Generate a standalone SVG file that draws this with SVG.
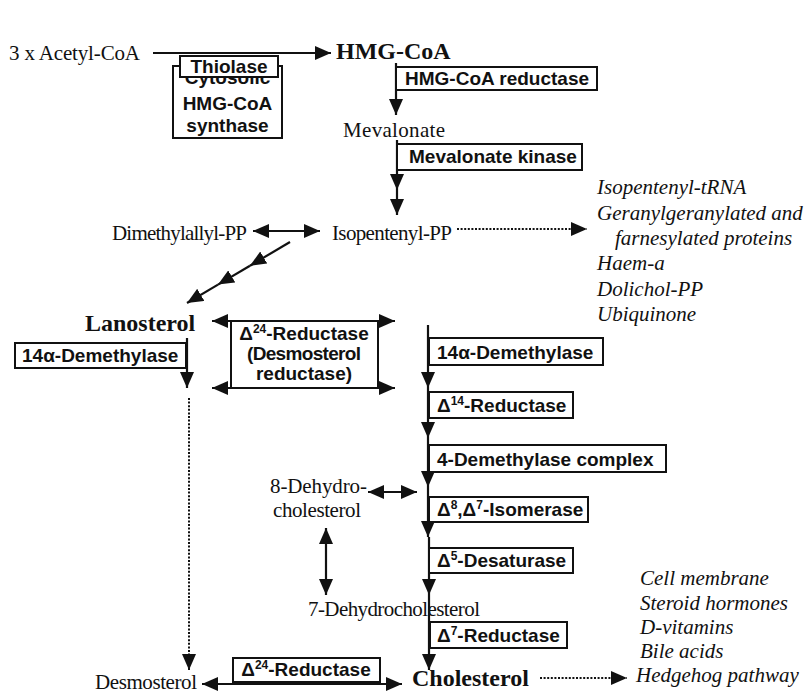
<svg xmlns="http://www.w3.org/2000/svg" width="808" height="695" viewBox="0 0 808 695">
  <defs>
    <marker id="ah" viewBox="0 0 16 14" refX="16" refY="7" markerWidth="16" markerHeight="14" orient="auto-start-reverse" markerUnits="userSpaceOnUse">
      <path d="M0,0 L16,7 L0,14 Z" fill="#111"/>
    </marker>
  </defs>
  <style>
    .sr { font-family: "Liberation Serif", "Times New Roman", serif; font-size: 21px; fill: #111; }
    .hd { font-family: "Liberation Serif", "Times New Roman", serif; font-size: 24px; font-weight: bold; fill: #111; }
    .it { font-family: "Liberation Serif", "Times New Roman", serif; font-size: 21px; font-style: italic; fill: #111; }
    .enz { font-family: "Liberation Sans", Arial, sans-serif; font-size: 19px; font-weight: bold; fill: #111; }
    .sup { font-size: 12px; }
    .box { fill: #fff; stroke: #111; stroke-width: 2; }
    .ln { stroke: #111; stroke-width: 2.2; fill: none; }
    .dot { stroke-dasharray: 2 1.6; stroke-width: 2; }
    .end { marker-end: url(#ah); }
    .both { marker-start: url(#ah); marker-end: url(#ah); }
  </style>
  <rect width="808" height="695" fill="#fff"/>

  <!-- connectors -->
  <g id="connectors">
    <line class="ln end" x1="153" y1="53" x2="331" y2="53"/>
    <line class="ln end" x1="396" y1="63" x2="396" y2="115"/>
    <line class="ln end" x1="397" y1="140" x2="397" y2="190"/>
    <line class="ln end" x1="397" y1="190" x2="397" y2="215"/>
    <line class="ln both" x1="253" y1="231" x2="320" y2="231"/>
    <line class="ln dot end" x1="457" y1="229" x2="587" y2="229"/>
    <line class="ln end" x1="290" y1="242" x2="250" y2="265.7"/>
    <line class="ln end" x1="250" y1="265.7" x2="218" y2="284.6"/>
    <line class="ln end" x1="218" y1="284.6" x2="187" y2="303"/>
    <line class="ln end" x1="187" y1="338" x2="187" y2="388"/>
    <line class="ln dot end" x1="189" y1="398" x2="189" y2="670"/>
    <line class="ln both" x1="212" y1="321" x2="395" y2="321"/>
    <line class="ln both" x1="212" y1="388" x2="395" y2="388"/>
    <line class="ln end" x1="428" y1="325" x2="428" y2="388"/>
    <line class="ln end" x1="428" y1="388" x2="428" y2="438"/>
    <line class="ln end" x1="428" y1="438" x2="428" y2="487"/>
    <line class="ln end" x1="428" y1="487" x2="428" y2="537"/>
    <line class="ln end" x1="429" y1="537" x2="429" y2="595"/>
    <line class="ln end" x1="429" y1="595" x2="429" y2="670"/>
    <line class="ln both" x1="368" y1="492" x2="417" y2="492"/>
    <line class="ln both" x1="326" y1="528" x2="326" y2="595"/>
    <line class="ln both" x1="202" y1="684" x2="402" y2="684"/>
    <line class="ln dot end" x1="540" y1="678" x2="627" y2="678"/>
  </g>

  <!-- metabolites -->
  <g id="acetylcoa"><text class="sr" x="9" y="60" textLength="131">3 x Acetyl-CoA</text></g>
  <g id="hmgcoa"><text class="hd" x="336" y="59">HMG-CoA</text></g>
  <g id="mevalonate"><text class="sr" x="343" y="137" textLength="102">Mevalonate</text></g>
  <g id="dimethylallyl"><text class="sr" x="112" y="240" textLength="135">Dimethylallyl-PP</text></g>
  <g id="isopentenyl"><text class="sr" x="332" y="240" textLength="120">Isopentenyl-PP</text></g>
  <g id="lanosterol"><text class="hd" x="85" y="331">Lanosterol</text></g>
  <g id="dehydro8"><text class="sr" x="270" y="493" textLength="97">8-Dehydro-</text><text class="sr" x="273" y="517" textLength="88">cholesterol</text></g>
  <g id="dehydro7"><text class="sr" x="308" y="616" textLength="172">7-Dehydrocholesterol</text></g>
  <g id="desmosterol"><text class="sr" x="95" y="689" textLength="102">Desmosterol</text></g>
  <g id="cholesterol"><text class="hd" x="412" y="686">Cholesterol</text></g>

  <!-- products -->
  <g id="isoprenoid-products">
    <text class="it" x="597" y="194">Isopentenyl-tRNA</text>
    <text class="it" x="597" y="219.5">Geranylgeranylated and</text>
    <text class="it" x="615" y="245">farnesylated proteins</text>
    <text class="it" x="597" y="270">Haem-a</text>
    <text class="it" x="597" y="296">Dolichol-PP</text>
    <text class="it" x="597" y="321">Ubiquinone</text>
  </g>
  <g id="cholesterol-uses">
    <text class="it" x="640" y="585">Cell membrane</text>
    <text class="it" x="640" y="610">Steroid hormones</text>
    <text class="it" x="640" y="634">D-vitamins</text>
    <text class="it" x="640" y="658">Bile acids</text>
    <text class="it" x="636" y="682">Hedgehog pathway</text>
  </g>

  <!-- enzymes -->
  <g id="synthase">
    <rect class="box" x="173" y="66" width="109" height="72"/>
    <text class="enz" x="227.5" y="84" text-anchor="middle">Cytosolic</text>
    <text class="enz" x="227.5" y="110" text-anchor="middle">HMG-CoA</text>
    <text class="enz" x="227.5" y="132" text-anchor="middle">synthase</text>
  </g>
  <g id="thiolase">
    <rect class="box" x="180" y="56" width="98" height="21"/>
    <text class="enz" x="229" y="73" text-anchor="middle">Thiolase</text>
  </g>
  <g id="hmgcr">
    <rect class="box" x="396" y="67" width="201" height="23"/>
    <text class="enz" x="405" y="85">HMG-CoA reductase</text>
  </g>
  <g id="mvk">
    <rect class="box" x="397" y="144" width="185" height="26"/>
    <text class="enz" x="409" y="163">Mevalonate kinase</text>
  </g>
  <g id="demethylase-left">
    <rect class="box" x="15" y="343" width="171" height="25"/>
    <text class="enz" x="22" y="362">14α-Demethylase</text>
  </g>
  <g id="dhcr24">
    <rect class="box" x="231" y="321" width="147" height="67"/>
    <text class="enz" x="304" y="340" text-anchor="middle">Δ<tspan class="sup" dy="-7">24</tspan><tspan dy="7">-Reductase</tspan></text>
    <text class="enz" x="304" y="360" text-anchor="middle" textLength="114">(Desmosterol</text>
    <text class="enz" x="304" y="380" text-anchor="middle">reductase)</text>
  </g>
  <g id="demethylase-right">
    <rect class="box" x="429" y="338" width="174" height="27"/>
    <text class="enz" x="437" y="359">14α-Demethylase</text>
  </g>
  <g id="reductase14">
    <rect class="box" x="429" y="392" width="144" height="26"/>
    <text class="enz" x="437" y="412">Δ<tspan class="sup" dy="-7">14</tspan><tspan dy="7">-Reductase</tspan></text>
  </g>
  <g id="demethylase4">
    <rect class="box" x="429" y="445" width="237" height="27"/>
    <text class="enz" x="437" y="466">4-Demethylase complex</text>
  </g>
  <g id="isomerase">
    <rect class="box" x="429" y="497" width="159" height="25"/>
    <text class="enz" x="437" y="516">Δ<tspan class="sup" dy="-7">8</tspan><tspan dy="7">,Δ</tspan><tspan class="sup" dy="-7">7</tspan><tspan dy="7">-Isomerase</tspan></text>
  </g>
  <g id="desaturase">
    <rect class="box" x="429" y="548" width="144" height="25"/>
    <text class="enz" x="437" y="567">Δ<tspan class="sup" dy="-7">5</tspan><tspan dy="7">-Desaturase</tspan></text>
  </g>
  <g id="reductase7">
    <rect class="box" x="430" y="622" width="137" height="26"/>
    <text class="enz" x="437" y="642">Δ<tspan class="sup" dy="-7">7</tspan><tspan dy="7">-Reductase</tspan></text>
  </g>
  <g id="dhcr24-bottom">
    <rect class="box" x="233" y="658" width="147" height="24"/>
    <text class="enz" x="306" y="676" text-anchor="middle">Δ<tspan class="sup" dy="-7">24</tspan><tspan dy="7">-Reductase</tspan></text>
  </g>
</svg>
